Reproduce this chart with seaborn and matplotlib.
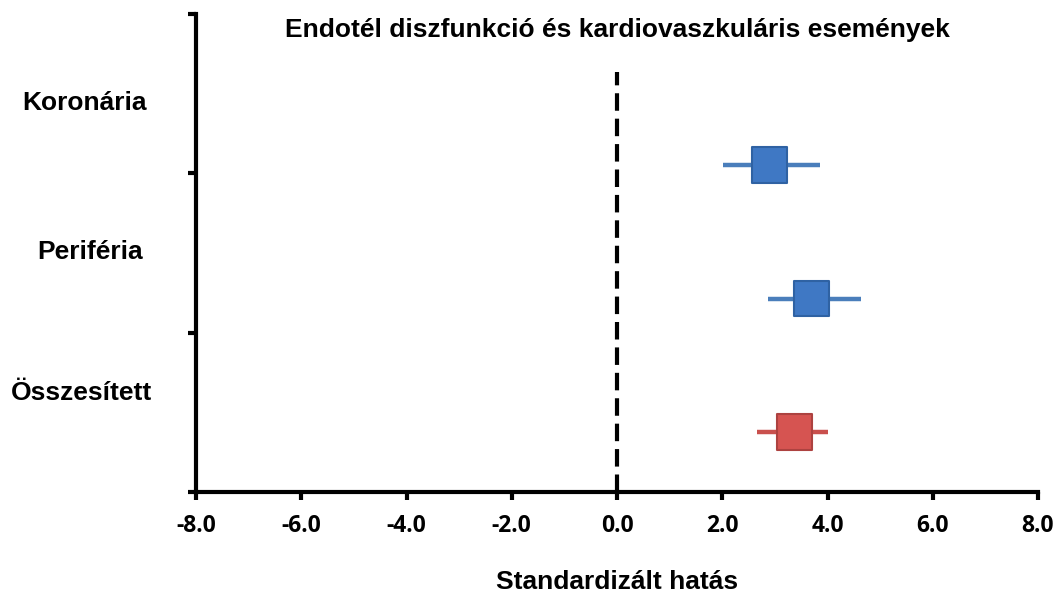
import numpy as np
import pandas as pd
import matplotlib
matplotlib.use("Agg")
import matplotlib.pyplot as plt
import seaborn as sns

# Data
categories = ["Koronária", "Periféria", "Összesített"]
effects = [2.9, 3.7, 3.38]
ci_low = [2.02, 2.87, 2.66]
ci_high = [3.86, 4.64, 4.01]
groups = ["egyedi", "egyedi", "összesített"]
xticks = [-8, -6, -4, -2, 0, 2, 4, 6, 8]
title = "Endotél diszfunkció és kardiovaszkuláris események"
xlabel = "Standardizált hatás"

df = pd.DataFrame({"cat": categories, "eff": effects, "lo": ci_low,
                   "hi": ci_high, "grp": groups})
df["pos"] = np.arange(len(df))

sns.set_theme(style="white")
plt.rcParams["font.family"] = ["Liberation Sans", "DejaVu Sans"]
plt.rcParams["text.color"] = "black"
plt.rcParams["axes.labelcolor"] = "black"
plt.rcParams["xtick.color"] = "black"
plt.rcParams["ytick.color"] = "black"

fig = plt.figure(figsize=(10.61, 5.94), dpi=100)
ax = fig.add_axes([196/1061, 1-492/594, (1038-196)/1061, (492-14)/594])

line_cols = {"egyedi": "#4A7EBB", "összesített": "#C9504D"}
face_cols = {"egyedi": "#3F78C4", "összesített": "#D65451"}
edge_cols = {"egyedi": "#2F62A3", "összesített": "#AD4240"}

for _, r in df.iterrows():
    ax.hlines(r["pos"], r["lo"], r["hi"], color=line_cols[r["grp"]], lw=3.2, zorder=2)

sns.scatterplot(data=df, x="eff", y="pos", hue="grp", palette=face_cols,
                marker="s", s=640, edgecolor=[edge_cols[g] for g in df["grp"]],
                linewidth=1.5, legend=False, ax=ax, zorder=3)

ax.axvline(0, ymin=0, ymax=0.879, color="black", lw=3, ls=(0, (4.2, 1.9)), zorder=1)

ylim_bottom = 2 + (492-432)/133.5
ylim_top = -(165-14)/133.5
ax.set_ylim(ylim_bottom, ylim_top)
ax.set_yticks(np.linspace(ylim_bottom, ylim_top, 4))
ax.set_yticklabels([])
ax.set_xlim(-8, 8)
ax.set_xticks(xticks)
ax.set_xticklabels([f"{v:.1f}" for v in xticks], fontfamily="Open Sans",
                   fontweight="bold", fontsize=16.5)
ax.tick_params(axis="both", direction="out", length=6, width=3, color="black",
               left=True, bottom=True)
ax.tick_params(axis="x", pad=10)
for s in ["top", "right"]:
    ax.spines[s].set_visible(False)
for s in ["left", "bottom"]:
    ax.spines[s].set_linewidth(3)
    ax.spines[s].set_color("black")
ax.set_xlabel(xlabel, fontsize=19, fontweight="bold", labelpad=23)
ax.set_ylabel("")

fig.text(617/1061, 1-30/594, title, ha="center", va="center",
         fontsize=19, fontweight="bold")
label_pos = [(84, 103), (90, 252), (81, 393)]
for name, (px, py) in zip(categories, label_pos):
    fig.text(px/1061, 1-py/594, name, ha="center", va="center",
             fontsize=19, fontweight="bold")

fig.savefig("out.png", dpi=100, facecolor="white")
